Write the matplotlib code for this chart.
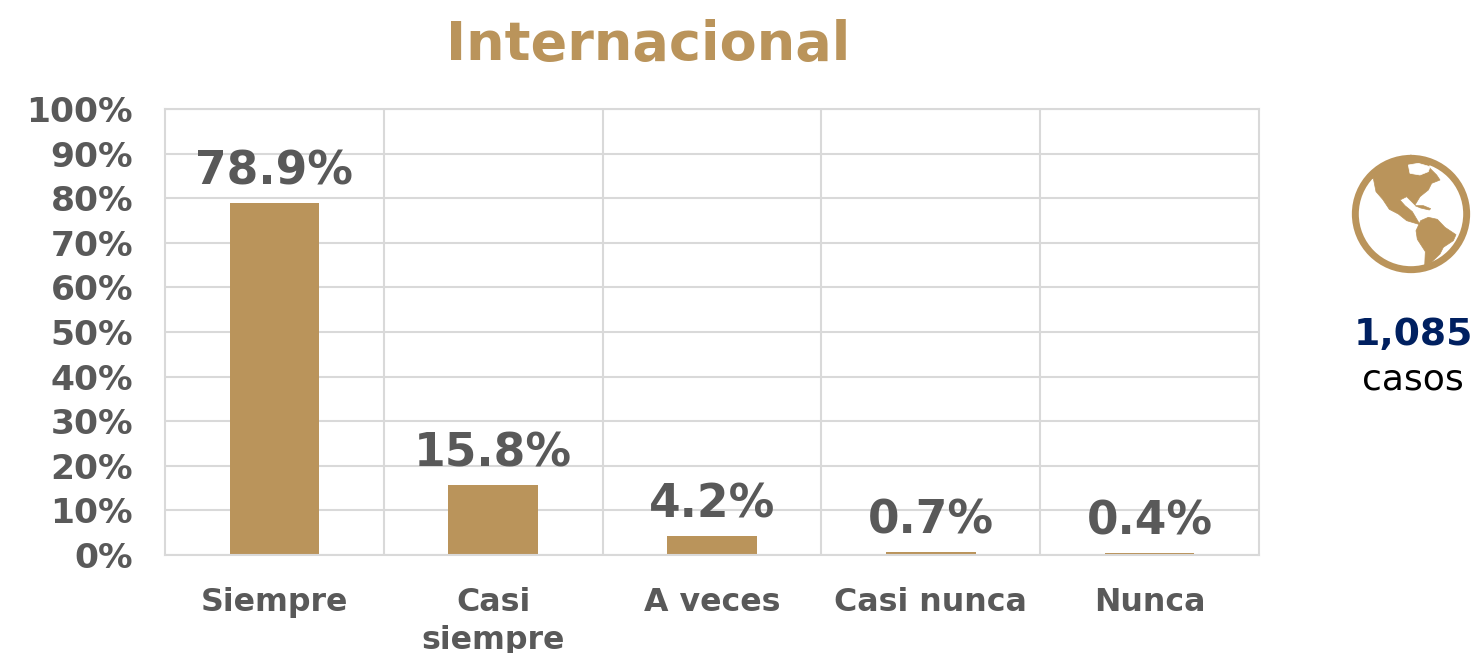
#!/usr/bin/env python3
"""Bar chart: Internacional, frequency of answers, with globe icon and case count."""
import matplotlib
matplotlib.use('Agg')
import matplotlib.pyplot as plt
from matplotlib.patches import Circle, Polygon

W, H = 1479, 653
GOLD = '#BA945B'
GREY = '#595959'
NAVY = '#002060'
GRID = '#D9D9D9'

categories = ['Siempre', 'Casi\nsiempre', 'A veces', 'Casi nunca', 'Nunca']
values = [78.9, 15.8, 4.2, 0.7, 0.4]
yticks = list(range(0, 101, 10))

# icon outlines, in zoomed reference pixels
north_america = [(105, 120), (130, 115), (138, 155), (158, 178), (178, 208), (205, 222), (230, 242),
                 (270, 254), (247, 215), (225, 197), (210, 180), (230, 170), (255, 195), (270, 170),
                 (295, 150), (305, 130), (330, 120), (320, 105), (300, 85), (295, 70), (243, 45),
                 (175, 65), (130, 90)]
arctic_gap = [(235, 75), (265, 70), (300, 80), (295, 95), (270, 105), (240, 100)]
cuba = [(255, 197), (280, 197), (302, 206), (298, 210), (272, 204)]
south_america = [(258, 272), (272, 242), (295, 232), (322, 238), (345, 262), (378, 284), (370, 302),
                 (340, 322), (330, 342), (305, 366), (284, 378), (286, 335), (262, 298)]


def main():
    fig = plt.figure(figsize=(W / 100, H / 100), dpi=100)
    ax = fig.add_axes([165 / W, 1 - 555 / H, (1259 - 165) / W, (555 - 109) / H])

    xs = range(len(values))
    ax.bar(xs, values, width=0.41, color=GOLD, zorder=2)
    ax.set_xlim(-0.5, 4.5)
    ax.set_ylim(0, 100)
    ax.set_yticks(yticks)
    ax.set_yticklabels([f'{v}%' for v in yticks], fontsize=24.8, fontweight='bold', color=GREY)
    ax.set_xticks(list(xs))
    ax.set_xticklabels(categories, fontsize=22.8, fontweight='bold', color=GREY, linespacing=1.3, va='top')
    ax.tick_params(axis='both', length=0)
    ax.tick_params(axis='y', pad=23)
    ax.tick_params(axis='x', pad=23)

    # vertical gridlines sit between categories
    ax.set_xticks([i + 0.5 for i in xs][:-1], minor=True)
    ax.tick_params(axis='x', which='minor', length=0)
    ax.grid(True, axis='x', which='minor', color=GRID, lw=1.5, zorder=0)
    ax.grid(True, axis='y', which='major', color=GRID, lw=1.5, zorder=0)
    ax.grid(False, axis='x', which='major')
    ax.set_axisbelow(True)
    for s in ax.spines.values():
        s.set_color(GRID)
        s.set_linewidth(1.5)
        s.set_zorder(3)

    for x, v in zip(xs, values):
        ax.annotate(f'{v}%', (x, v), xytext=(0, 6), textcoords='offset points', ha='center', va='bottom',
                    fontsize=32.8, fontweight='bold', color=GREY, zorder=4)

    fig.text(648 / W, 1 - 45 / H, 'Internacional', ha='center', va='center',
             fontsize=39, fontweight='bold', color=GOLD)
    fig.text(1413 / W, 1 - 335 / H, '1,085', ha='center', va='center',
             fontsize=27.2, fontweight='bold', color=NAVY)
    fig.text(1413 / W, 1 - 379 / H, 'casos', ha='center', va='center', fontsize=26, color='black')

    # globe icon
    left, top = 1330 + 60 / 3, 140 + 36 / 3
    size = 372 / 3
    icon = fig.add_axes([left / W, 1 - (top + size) / H, size / W, size / H])
    icon.set_xlim(60, 432)
    icon.set_ylim(408, 36)
    icon.axis('off')
    for shape in (north_america, cuba, south_america):
        icon.add_patch(Polygon(shape, closed=True, fc=GOLD, ec=GOLD, lw=0.5))
    icon.add_patch(Polygon(arctic_gap, closed=True, fc='white', ec='white', lw=0.5))
    icon.add_patch(Circle((243, 222), 167, fc='none', ec=GOLD, lw=5))

    fig.savefig('out.png', dpi=100)


if __name__ == '__main__':
    main()
